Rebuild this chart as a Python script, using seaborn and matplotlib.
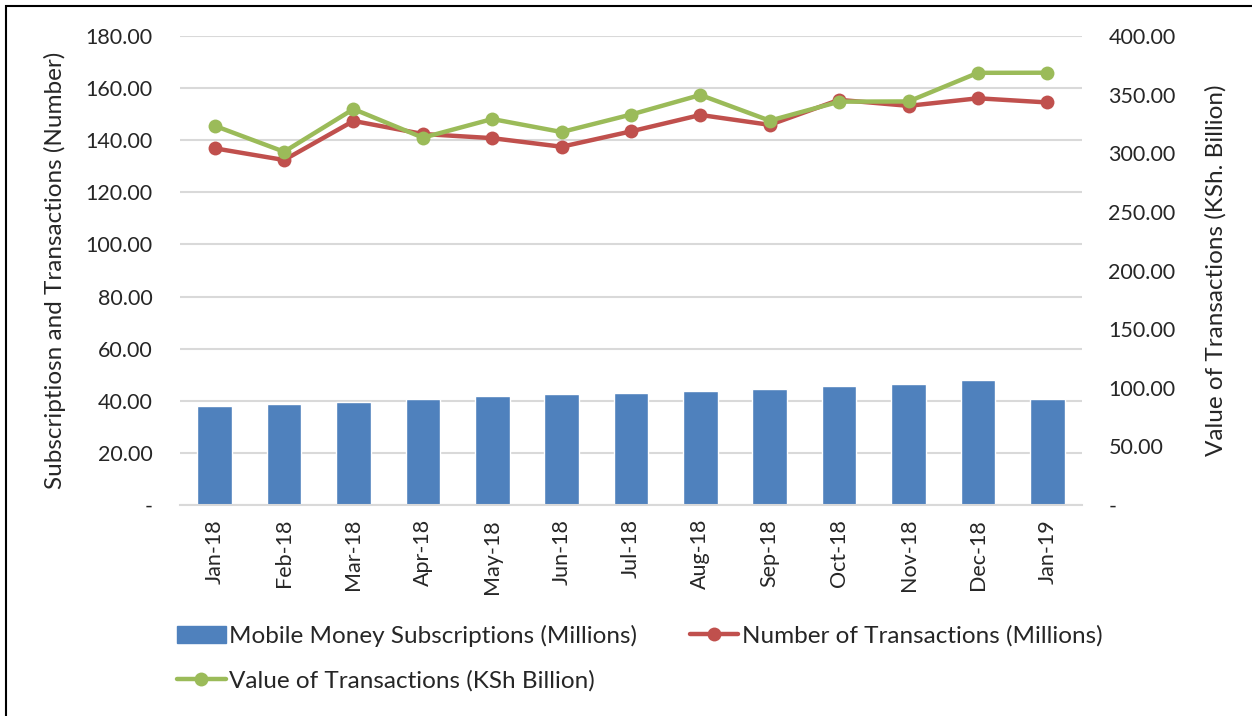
import seaborn as sns
import matplotlib.pyplot as plt
import matplotlib.patches as mpatches
from matplotlib.lines import Line2D
from matplotlib.ticker import FixedLocator, FuncFormatter
import pandas as pd
import numpy as np

# mobile money monthly figures
months = ['Jan-18', 'Feb-18', 'Mar-18', 'Apr-18', 'May-18', 'Jun-18', 'Jul-18',
          'Aug-18', 'Sep-18', 'Oct-18', 'Nov-18', 'Dec-18', 'Jan-19']
subscriptions = [38.1, 38.7, 39.5, 40.6, 41.9, 42.7, 43.0, 43.7, 44.5, 45.8, 46.4, 48.0, 40.6]
num_transactions = [136.9, 132.4, 147.4, 142.4, 140.8, 137.5, 143.4, 149.7, 145.9, 155.5, 153.2, 156.1, 154.5]
value_transactions = [323.4, 301.3, 337.7, 313.3, 329.2, 318.1, 333.0, 349.7, 327.8, 344.0, 344.2, 368.6, 368.7]

left_ticks = [0, 20, 40, 60, 80, 100, 120, 140, 160, 180]
right_ticks = [0, 50, 100, 150, 200, 250, 300, 350, 400]

BLUE = '#4F81BD'
RED = '#C0504D'
GREEN = '#9BBB59'
GRID = '#D9D9D9'

df = pd.DataFrame({
    'month': months,
    'pos': np.arange(len(months)),
    'subs': subscriptions,
    'count': num_transactions,
    'value': value_transactions,
})

sns.set_style('white')
plt.rcParams['font.family'] = ['Lato', 'DejaVu Sans']
FS_TICK = 15.5
FS_TEXT = 17.5

fig = plt.figure(figsize=(12.52, 7.16), dpi=100)
ax = fig.add_axes([0.1438, 0.2947, 0.7204, 0.6550])

sns.barplot(data=df, x='month', y='subs', color=BLUE, width=0.5, saturation=1, ax=ax)
sns.lineplot(data=df, x='pos', y='count', color=RED, lw=3.2, marker='o', markersize=10,
             markeredgewidth=0, ax=ax)

ax2 = ax.twinx()
sns.lineplot(data=df, x='pos', y='value', color=GREEN, lw=3.2, marker='o', markersize=10,
             markeredgewidth=0, ax=ax2)

def fmt(v, _):
    return '-' if v == 0 else f'{v:.2f}'

ax.set_xlim(-0.5, len(months) - 0.5)
ax.set_ylim(0, 180)
ax2.set_ylim(0, 400)
ax.yaxis.set_major_locator(FixedLocator(left_ticks))
ax2.yaxis.set_major_locator(FixedLocator(right_ticks))
ax.yaxis.set_major_formatter(FuncFormatter(fmt))
ax2.yaxis.set_major_formatter(FuncFormatter(fmt))

ax.grid(axis='y', color=GRID, lw=1.5)
ax.set_axisbelow(True)
ax2.grid(False)

for a in (ax, ax2):
    for s in ('left', 'right', 'top', 'bottom'):
        a.spines[s].set_visible(False)
ax.spines['bottom'].set_visible(True)
ax.spines['bottom'].set_color(GRID)
ax.spines['bottom'].set_linewidth(1.5)

ax.set_xticks(np.arange(len(months)))
ax.set_xticklabels(months, rotation=90, fontsize=FS_TICK)
ax.set_xticks(np.arange(len(months) + 1) - 0.5, minor=True)
ax.tick_params(axis='x', which='major', length=0, pad=10)
ax.tick_params(axis='x', which='minor', length=7, width=1.5, color=GRID)
ax.tick_params(axis='y', length=0, pad=20, labelsize=FS_TICK)
ax2.tick_params(axis='y', length=0, pad=19, labelsize=FS_TICK)

ax.set_xlabel('')
ax.set_ylabel('Subscriptiosn and Transactions (Number)', fontsize=FS_TEXT, labelpad=14)
ax2.set_ylabel('Value of Transactions (KSh. Billion)', fontsize=FS_TEXT, labelpad=21)

handles = [
    mpatches.Patch(color=BLUE, label='Mobile Money Subscriptions (Millions)'),
    Line2D([], [], color=GREEN, lw=3.2, marker='o', markersize=10, markeredgewidth=0,
           label='Value of Transactions (KSh Billion)'),
    Line2D([], [], color=RED, lw=3.2, marker='o', markersize=10, markeredgewidth=0,
           label='Number of Transactions (Millions)'),
]
fig.legend(handles=handles, ncol=2, loc='upper left', bbox_to_anchor=(0.124, 0.158),
           frameon=False, fontsize=FS_TEXT, handlelength=2.0, handletextpad=0.15,
           columnspacing=2.15, labelspacing=0.95)

# outer chart frame
fig.add_artist(mpatches.Rectangle((6 / 1252, -0.1), 1.2, 0.1 + (716 - 6) / 716,
                                  transform=fig.transFigure, fill=False,
                                  edgecolor='black', lw=1.5))

fig.savefig('out.png', dpi=100)
